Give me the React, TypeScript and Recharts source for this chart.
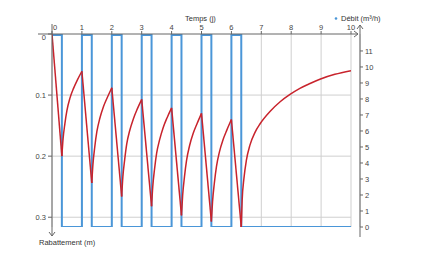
import { CartesianGrid, ComposedChart, Line, ReferenceLine, XAxis, YAxis } from "recharts";

// temps (j) and débit (m³/h) of the pumping schedule
const debitT = [0, 0.33, 1, 1.33, 2, 2.33, 3, 3.33, 4, 4.33, 5, 5.33, 6, 6.33, 10];
const debitQ = [12, 0, 12, 0, 12, 0, 12, 0, 12, 0, 12, 0, 12, 0, 0];

// rabattement (m)
const rabT = [
  0, 0.33, 0.37, 0.43, 0.5, 0.6, 0.72, 0.85, 1,
  1.33, 1.37, 1.43, 1.5, 1.6, 1.72, 1.85, 2,
  2.33, 2.37, 2.43, 2.5, 2.6, 2.72, 2.85, 3,
  3.33, 3.37, 3.43, 3.5, 3.6, 3.72, 3.85, 4,
  4.33, 4.37, 4.43, 4.5, 4.6, 4.72, 4.85, 5,
  5.33, 5.37, 5.43, 5.5, 5.6, 5.72, 5.85, 6,
  6.33, 6.36, 6.42, 6.5, 6.62, 6.79, 6.96, 7.29, 7.63, 7.96, 8.29, 8.63, 8.96, 9.46, 10,
];
const rabS = [
  0, 0.2, 0.172, 0.147, 0.125, 0.105, 0.089, 0.075, 0.061,
  0.244, 0.213, 0.185, 0.16, 0.138, 0.119, 0.104, 0.088,
  0.266, 0.234, 0.206, 0.18, 0.158, 0.139, 0.123, 0.107,
  0.282, 0.25, 0.221, 0.195, 0.173, 0.153, 0.137, 0.121,
  0.297, 0.264, 0.234, 0.207, 0.183, 0.163, 0.147, 0.13,
  0.307, 0.274, 0.244, 0.217, 0.193, 0.173, 0.157, 0.14,
  0.316, 0.272, 0.236, 0.207, 0.182, 0.161, 0.147, 0.127, 0.111, 0.099, 0.089, 0.081, 0.074, 0.066, 0.06,
];

const timeTicks = [0, 1, 2, 3, 4, 5, 6, 7, 8, 9, 10];
const rabTicks = [0, 0.1, 0.2, 0.3];
const debitTicks = [0, 1, 2, 3, 4, 5, 6, 7, 8, 9, 10, 11];

const W = 424;
const H = 276;
const M = { top: 4, left: 2, right: 24, bottom: 49 };
const XH = 30;
const LW = 50;
const RW = 40;
const PAD_R = 9;
const PL = M.left + LW;
const PT = M.top + XH;
const PB = H - M.bottom;
const PR = W - M.right - RW;

const AXIS = "#666";
const GRID = "#cfcfcf";
const BLUE = "#4a96d8";
const RED = "#c8232c";
const FONT = "'Liberation Sans', Arial, sans-serif";
const TXT = "#444";

const debitData = debitT.map((t, i) => ({ t, q: debitQ[i] }));

// split the drawdown curve at each cusp so every piece is smoothed on its own
function splitSegments() {
  const segs: { t: number; s: number }[][] = [];
  let cur = [{ t: rabT[0], s: rabS[0] }];
  let dir = 0;
  for (let i = 1; i < rabT.length; i++) {
    const d = Math.sign(rabS[i] - rabS[i - 1]);
    if (dir !== 0 && d !== dir) {
      segs.push(cur);
      cur = [{ t: rabT[i - 1], s: rabS[i - 1] }];
    }
    dir = d;
    cur.push({ t: rabT[i], s: rabS[i] });
  }
  segs.push(cur);
  return segs;
}

function TimeTick({ x, y, payload }: any) {
  const dx = payload.value === 0 ? 3 : 0;
  return (
    <text x={x + dx} y={y} textAnchor="middle" fontSize={7.5} fill={TXT} fontFamily={FONT}>
      {payload.value}
    </text>
  );
}

function RabTick({ x, y, payload }: any) {
  const dy = payload.value === 0 ? 3.5 : 0;
  return (
    <text x={x} y={y + dy + 2.5} textAnchor="end" fontSize={7.5} fill={TXT} fontFamily={FONT}>
      {payload.value}
    </text>
  );
}

const tickStyle = { fontSize: 7.5, fill: TXT, fontFamily: FONT };

function Overlay() {
  return (
    <svg width={W} height={H} style={{ position: "absolute", left: 0, top: 0, pointerEvents: "none" }}>
      <g stroke={AXIS} strokeWidth={1} fill="none">
        <line x1={PL - 14} y1={PT} x2={PR - 2} y2={PT} />
        <polyline points={`${PR - 6},${PT - 3} ${PR - 2},${PT} ${PR - 6},${PT + 3}`} />
        <line x1={PL} y1={PT - 10} x2={PL} y2={PB + 9} />
        <polyline points={`${PL - 3},${PB + 5} ${PL},${PB + 9} ${PL + 3},${PB + 5}`} />
        <line x1={PR} y1={PT - 9} x2={PR} y2={PB + 10} />
        <polyline points={`${PR - 3},${PT - 5} ${PR},${PT - 9} ${PR + 3},${PT - 5}`} />
      </g>
      <text x={185} y={21} fontSize={7.5} fill="#333" fontFamily={FONT}>Temps (j)</text>
      <circle cx={336} cy={18.5} r={1.3} fill={BLUE} />
      <text x={341} y={21} fontSize={7.5} fill="#333" fontFamily={FONT}>Débit (m³/h)</text>
      <text x={39} y={245} fontSize={7.5} fill="#333" fontFamily={FONT}>Rabattement (m)</text>
    </svg>
  );
}

export default function App() {
  const segments = splitSegments();
  return (
    <div style={{ position: "absolute", left: 0, top: 0, width: W, height: H, background: "#fff" }}>
      <ComposedChart width={W} height={H} margin={M}>
        <CartesianGrid yAxisId="left" horizontal={false} stroke={GRID} />
        <XAxis
          type="number"
          dataKey="t"
          orientation="top"
          domain={[0, 10]}
          ticks={timeTicks}
          height={XH}
          padding={{ left: 0, right: PAD_R }}
          axisLine={false}
          tickLine={{ stroke: AXIS }}
          tickSize={3}
          tickMargin={1}
          tick={<TimeTick />}
          allowDataOverflow
        />
        <YAxis
          yAxisId="left"
          type="number"
          domain={[0, 0.316]}
          reversed
          ticks={rabTicks}
          width={LW}
          axisLine={false}
          tickLine={{ stroke: AXIS }}
          tickSize={4}
          tick={<RabTick />}
          allowDataOverflow
        />
        <YAxis
          yAxisId="right"
          orientation="right"
          type="number"
          domain={[0, 12.06]}
          ticks={debitTicks}
          width={RW}
          axisLine={false}
          tickLine={{ stroke: AXIS }}
          tickSize={3}
          tick={tickStyle}
          allowDataOverflow
        />
        {rabTicks.filter((v) => v > 0).map((v) => (
          <ReferenceLine
            key={v}
            yAxisId="left"
            segment={[{ x: 0, y: v }, { x: 10, y: v }]}
            stroke={GRID}
          />
        ))}
        <Line
          yAxisId="right"
          data={debitData}
          dataKey="q"
          type="stepAfter"
          stroke={BLUE}
          strokeWidth={2}
          dot={false}
          isAnimationActive={false}
        />
        {segments.map((seg, i) => (
          <Line
            key={i}
            yAxisId="left"
            data={seg}
            dataKey="s"
            type="monotone"
            stroke={RED}
            strokeWidth={1.5}
            dot={false}
            isAnimationActive={false}
          />
        ))}
      </ComposedChart>
      <Overlay />
    </div>
  );
}
